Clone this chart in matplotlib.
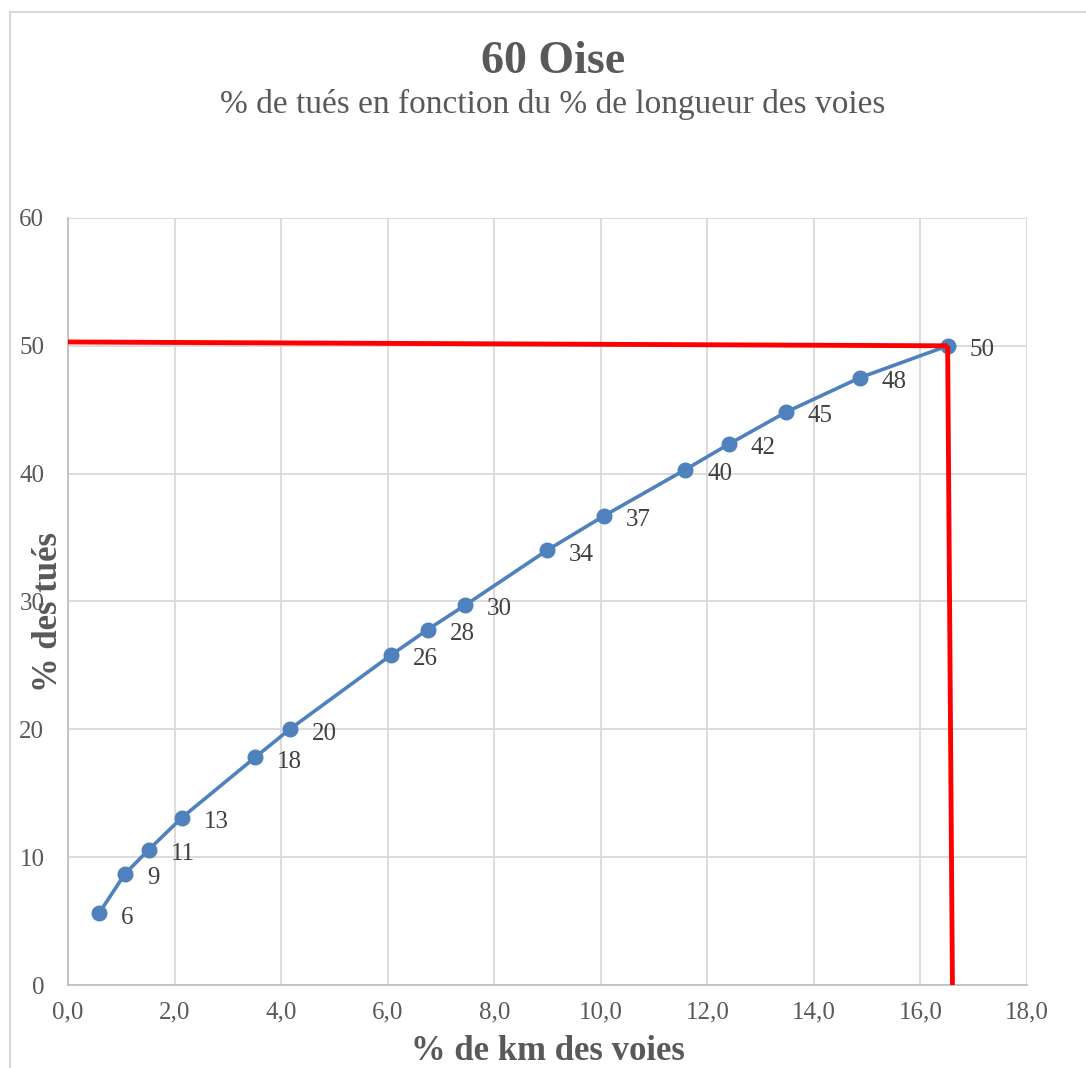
import matplotlib.pyplot as plt
from matplotlib.patches import Rectangle

# Data
pct_km = [0.58, 1.07, 1.52, 2.14, 3.51, 4.16, 6.06, 6.75, 7.45, 8.99,
          10.06, 11.58, 12.40, 13.47, 14.86, 16.51]
pct_tues = [5.6, 8.7, 10.6, 13.1, 17.8, 20.0, 25.8, 27.8, 29.7, 34.0,
            36.7, 40.3, 42.3, 44.8, 47.5, 50.0]
point_labels = ["6", "9", "11", "13", "18", "20", "26", "28", "30", "34",
                "37", "40", "42", "45", "48", "50"]

# Hand-drawn red guide lines
red_h_x = [0.0, 16.51]
red_h_y = [50.3, 50.0]
red_v_x = [16.51, 16.6]
red_v_y = [50.0, 0.0]

xticks = [0, 2, 4, 6, 8, 10, 12, 14, 16, 18]
yticks = [0, 10, 20, 30, 40, 50, 60]

plt.rcParams['font.family'] = ['Liberation Serif', 'DejaVu Serif']

fig = plt.figure(figsize=(10.86, 10.68), dpi=100)
ax = fig.add_axes([0.0626, 0.0777, 0.8831, 0.7182])

# Outer chart border
fig.patches.append(Rectangle((10 / 1086, -0.1), 1.2, 1.1 - 12 / 1068,
                             transform=fig.transFigure, fill=False,
                             edgecolor='#d9d9d9', linewidth=1.5))

ax.plot(pct_km, pct_tues, color='#4f81bd', linewidth=2.6, marker='o',
        markersize=10.5, zorder=3)
for x, y, lab in zip(pct_km, pct_tues, point_labels):
    ax.annotate(lab, (x, y), xytext=(16, -3), textcoords='offset points',
                ha='left', va='center', fontsize=18, color='#404040')

ax.plot(red_h_x, red_h_y, color='#ff0000', linewidth=3.5, zorder=4,
        solid_capstyle='butt')
ax.plot(red_v_x, red_v_y, color='#ff0000', linewidth=3.5, zorder=4,
        solid_capstyle='butt')

ax.set_xlim(0, 18)
ax.set_ylim(0, 60)
ax.set_xticks(xticks)
ax.set_xticklabels([f"{t:.1f}".replace('.', ',') for t in xticks])
ax.set_yticks(yticks)
ax.tick_params(length=0, labelsize=18, labelcolor='#595959')
ax.tick_params(axis='x', pad=12)
ax.tick_params(axis='y', pad=17)
ax.grid(True, color='#d9d9d9', linewidth=1.3)
ax.set_axisbelow(True)
for s in ['top', 'right']:
    ax.spines[s].set_visible(False)
for s in ['left', 'bottom']:
    ax.spines[s].set_color('#bfbfbf')
    ax.spines[s].set_linewidth(1.3)

ax.set_xlabel("% de km des voies", fontsize=25, fontweight='bold',
              color='#595959')
ax.xaxis.set_label_coords(0.5, -0.065)
ax.set_ylabel("% des tués", fontsize=25, fontweight='bold',
              color='#595959')
ax.yaxis.set_label_coords(-0.003, 0.486)

fig.text(0.509, 0.942, "60 Oise", ha='center', va='center', fontsize=33,
         fontweight='bold', color='#595959')
fig.text(0.509, 0.902, "% de tués en fonction du % de longueur des voies",
         ha='center', va='center', fontsize=24, color='#595959')

fig.savefig("out.png", dpi=100)
